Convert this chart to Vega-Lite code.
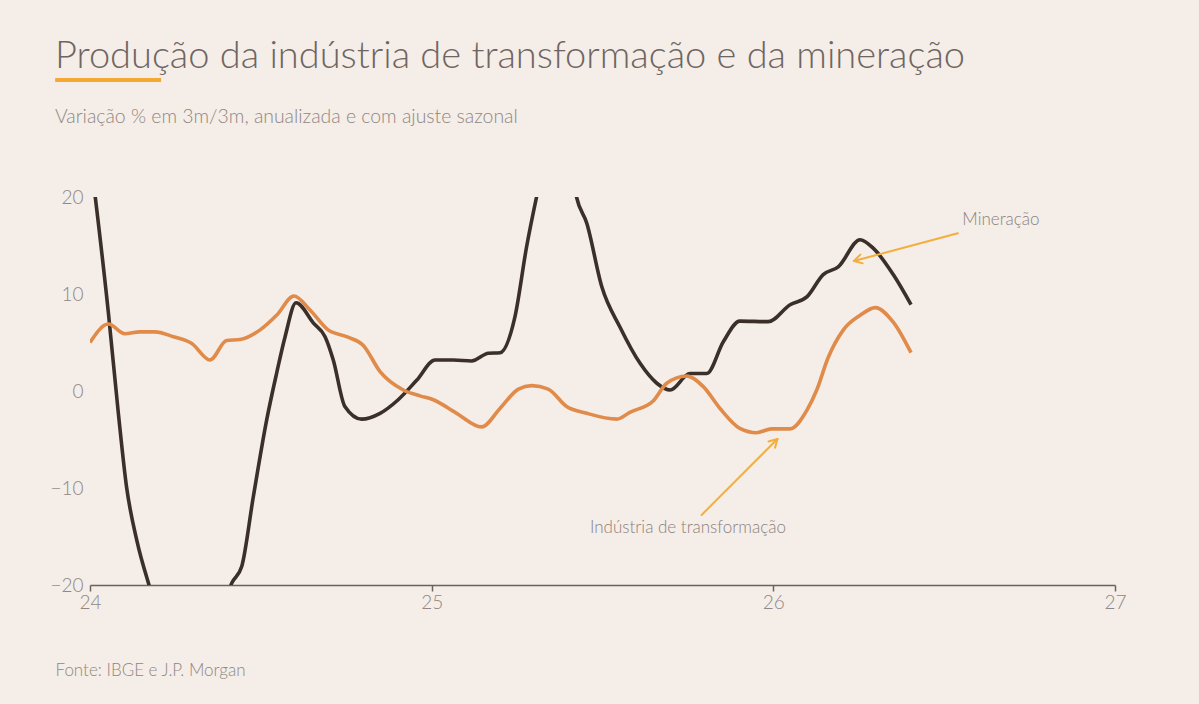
{
  "$schema": "https://vega.github.io/schema/vega-lite/v6.json",
  "width": 1025,
  "height": 388,
  "autosize": "none",
  "padding": {"left": 90, "top": 197, "right": 84, "bottom": 119},
  "background": "#f5ede7",
  "title": {
    "text": "Produção da indústria de transformação e da mineração",
    "subtitle": "Variação % em 3m/3m, anualizada e com ajuste sazonal",
    "anchor": "start",
    "frame": "group",
    "dx": -35,
    "offset": -48,
    "font": "Lato",
    "fontSize": 38,
    "fontWeight": 300,
    "color": "#6e6562",
    "subtitleFont": "Lato",
    "subtitleFontSize": 19.4,
    "subtitleFontWeight": 300,
    "subtitleColor": "#8f8784",
    "subtitlePadding": 32
  },
  "config": {
    "view": {"stroke": null},
    "font": "Lato"
  },
  "datasets": {
    "mineracao": [
      {"x": 24.000, "valor": 24.5},
      {"x": 24.054, "valor": 8.0},
      {"x": 24.083, "valor": -2.3},
      {"x": 24.107, "valor": -9.9},
      {"x": 24.137, "valor": -15.4},
      {"x": 24.171, "valor": -19.8},
      {"x": 24.205, "valor": -23.5},
      {"x": 24.249, "valor": -26.0},
      {"x": 24.293, "valor": -27.0},
      {"x": 24.337, "valor": -26.5},
      {"x": 24.380, "valor": -23.5},
      {"x": 24.415, "valor": -19.8},
      {"x": 24.444, "valor": -18.1},
      {"x": 24.478, "valor": -10.9},
      {"x": 24.517, "valor": -3.0},
      {"x": 24.546, "valor": 1.8},
      {"x": 24.571, "valor": 5.6},
      {"x": 24.603, "valor": 9.1},
      {"x": 24.654, "valor": 7.0},
      {"x": 24.688, "valor": 5.6},
      {"x": 24.712, "valor": 3.2},
      {"x": 24.746, "valor": -1.6},
      {"x": 24.795, "valor": -2.9},
      {"x": 24.849, "valor": -2.3},
      {"x": 24.902, "valor": -0.9},
      {"x": 24.956, "valor": 1.1},
      {"x": 25.010, "valor": 3.2},
      {"x": 25.063, "valor": 3.2},
      {"x": 25.117, "valor": 3.1},
      {"x": 25.166, "valor": 3.9},
      {"x": 25.200, "valor": 3.95},
      {"x": 25.244, "valor": 7.7},
      {"x": 25.278, "valor": 14.9},
      {"x": 25.307, "valor": 20.0},
      {"x": 25.332, "valor": 24.0},
      {"x": 25.361, "valor": 26.5},
      {"x": 25.390, "valor": 25.0},
      {"x": 25.411, "valor": 22.5},
      {"x": 25.424, "valor": 20.0},
      {"x": 25.454, "valor": 17.3},
      {"x": 25.498, "valor": 10.75},
      {"x": 25.551, "valor": 6.6},
      {"x": 25.610, "valor": 2.85},
      {"x": 25.659, "valor": 0.8},
      {"x": 25.698, "valor": 0.1},
      {"x": 25.756, "valor": 1.8},
      {"x": 25.805, "valor": 1.8},
      {"x": 25.854, "valor": 5.1},
      {"x": 25.902, "valor": 7.2},
      {"x": 25.985, "valor": 7.15},
      {"x": 26.049, "valor": 8.9},
      {"x": 26.098, "valor": 9.7},
      {"x": 26.146, "valor": 12.0},
      {"x": 26.190, "valor": 12.8},
      {"x": 26.254, "valor": 15.6},
      {"x": 26.293, "valor": 14.7},
      {"x": 26.351, "valor": 12.0},
      {"x": 26.403, "valor": 8.9}
    ],
    "industria": [
      {"x": 24.000, "valor": 5.0},
      {"x": 24.054, "valor": 6.9},
      {"x": 24.102, "valor": 5.9},
      {"x": 24.146, "valor": 6.1},
      {"x": 24.190, "valor": 6.1},
      {"x": 24.244, "valor": 5.6},
      {"x": 24.298, "valor": 4.9},
      {"x": 24.351, "valor": 3.2},
      {"x": 24.400, "valor": 5.2},
      {"x": 24.439, "valor": 5.3},
      {"x": 24.498, "valor": 6.3},
      {"x": 24.546, "valor": 7.8},
      {"x": 24.597, "valor": 9.8},
      {"x": 24.644, "valor": 8.35},
      {"x": 24.697, "valor": 6.3},
      {"x": 24.751, "valor": 5.6},
      {"x": 24.800, "valor": 4.7},
      {"x": 24.849, "valor": 2.0},
      {"x": 24.917, "valor": 0.1},
      {"x": 24.966, "valor": -0.5},
      {"x": 25.005, "valor": -0.9},
      {"x": 25.073, "valor": -2.3},
      {"x": 25.146, "valor": -3.7},
      {"x": 25.200, "valor": -1.8},
      {"x": 25.254, "valor": 0.2},
      {"x": 25.293, "valor": 0.55},
      {"x": 25.341, "valor": 0.2},
      {"x": 25.395, "valor": -1.6},
      {"x": 25.454, "valor": -2.3},
      {"x": 25.542, "valor": -2.9},
      {"x": 25.580, "valor": -2.2},
      {"x": 25.649, "valor": -1.0},
      {"x": 25.688, "valor": 0.8},
      {"x": 25.746, "valor": 1.55},
      {"x": 25.795, "valor": 0.45},
      {"x": 25.844, "valor": -1.8},
      {"x": 25.902, "valor": -3.85},
      {"x": 25.951, "valor": -4.3},
      {"x": 25.995, "valor": -3.9},
      {"x": 26.049, "valor": -3.9},
      {"x": 26.098, "valor": -2.0},
      {"x": 26.127, "valor": 0.1},
      {"x": 26.160, "valor": 3.4},
      {"x": 26.205, "valor": 6.3},
      {"x": 26.254, "valor": 7.8},
      {"x": 26.298, "valor": 8.6},
      {"x": 26.351, "valor": 7.1},
      {"x": 26.403, "valor": 3.95}
    ],
    "setas": [
      {"x": 26.540, "valor": 16.26, "x2": 26.236, "valor2": 13.40},
      {"x": 26.236, "valor": 13.40, "x2": 26.2616, "valor2": 13.16},
      {"x": 26.236, "valor": 13.40, "x2": 26.2548, "valor2": 14.06},
      {"x": 25.790, "valor": -12.78, "x2": 26.012, "valor2": -4.95},
      {"x": 26.012, "valor": -4.95, "x2": 25.986, "valor2": -5.20},
      {"x": 26.012, "valor": -4.95, "x2": 26.005, "valor2": -5.85}
    ],
    "rotulos": [
      {"x": 26.666, "valor": 17.6, "texto": "Mineração"},
      {"x": 25.750, "valor": -14.1, "texto": "Indústria de transformação"}
    ],
    "destaque": [
      {"x": 23.898, "x2": 24.208, "valor": 32.06}
    ]
  },
  "layer": [
    {
      "mark": {"type": "rule", "color": "#aaa29e", "strokeWidth": 1.5},
      "encoding": {
        "y": {"datum": 0, "type": "quantitative"}
      }
    },
    {
      "data": {"name": "mineracao"},
      "mark": {"type": "line", "clip": true, "color": "#3b2f29", "strokeWidth": 3.6, "interpolate": "monotone"},
      "encoding": {
        "x": {
          "field": "x",
          "type": "quantitative",
          "scale": {"domain": [24, 27], "nice": false, "zero": false},
          "axis": {
            "title": "Fonte: IBGE e J.P. Morgan",
            "titleFont": "Lato",
            "titleFontSize": 17,
            "titleFontWeight": 300,
            "titleColor": "#8f8784",
            "titleAlign": "left",
            "titleBaseline": "middle",
            "titleAnchor": "start",
            "titleX": -35,
            "titleY": 85,
            "values": [24, 25, 26, 27],
            "format": "d",
            "grid": false,
            "domainColor": "#6e615d",
            "domainWidth": 1.5,
            "tickColor": "#6e615d",
            "tickWidth": 1.5,
            "tickSize": 6,
            "labelFont": "Lato",
            "labelFontSize": 19,
            "labelFontWeight": 300,
            "labelColor": "#8f8784",
            "labelPadding": 2,
            "labelFlush": false
          }
        },
        "y": {
          "field": "valor",
          "type": "quantitative",
          "scale": {"domain": [-20, 20], "nice": false},
          "axis": {
            "title": null,
            "values": [-20, -10, 0, 10, 20],
            "grid": false,
            "domain": false,
            "ticks": false,
            "labelFont": "Lato",
            "labelFontSize": 19,
            "labelFontWeight": 300,
            "labelColor": "#8f8784",
            "labelPadding": 7
          }
        }
      }
    },
    {
      "data": {"name": "industria"},
      "mark": {"type": "line", "clip": true, "color": "#e08b4a", "strokeWidth": 3.6, "interpolate": "monotone"},
      "encoding": {
        "x": {"field": "x", "type": "quantitative"},
        "y": {"field": "valor", "type": "quantitative"}
      }
    },
    {
      "data": {"name": "setas"},
      "mark": {"type": "rule", "color": "#f4ae3d", "strokeWidth": 2, "strokeCap": "round"},
      "encoding": {
        "x": {"field": "x", "type": "quantitative"},
        "y": {"field": "valor", "type": "quantitative"},
        "x2": {"field": "x2"},
        "y2": {"field": "valor2"}
      }
    },
    {
      "data": {"name": "rotulos"},
      "mark": {"type": "text", "font": "Lato", "fontSize": 17, "fontWeight": 300, "color": "#8a827e", "baseline": "middle", "align": "center"},
      "encoding": {
        "x": {"field": "x", "type": "quantitative"},
        "y": {"field": "valor", "type": "quantitative"},
        "text": {"field": "texto"}
      }
    },
    {
      "data": {"name": "destaque"},
      "mark": {"type": "rule", "color": "#f5a833", "strokeWidth": 4, "clip": false},
      "encoding": {
        "x": {"field": "x", "type": "quantitative"},
        "x2": {"field": "x2"},
        "y": {"field": "valor", "type": "quantitative"}
      }
    }
  ]
}
